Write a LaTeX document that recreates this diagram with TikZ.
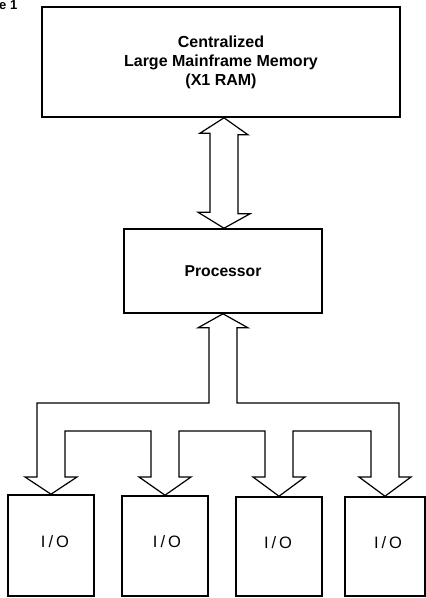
\documentclass[tikz,border=0pt]{standalone}
\usepackage{fontspec}
\setmainfont{Liberation Sans}
\usetikzlibrary{calc}
\begin{document}
\begin{tikzpicture}[x=1pt,y=-1pt,
  box/.style={draw, line width=1.6pt, inner sep=0pt},
  iobox/.style={box, minimum width=86pt},
  fat/.style={draw, line width=1.2pt, line join=miter},
  iotext/.style={font=\fontsize{16.5}{16.5}\selectfont, inner sep=0pt}]
\useasboundingbox (0,0) rectangle (426,598);
% caption fragment
\node[anchor=north west, inner sep=0pt, font=\bfseries\fontsize{13}{13}\selectfont] (fig) at (-1,0.5) {e 1};
% boxes
\node[box, minimum width=358pt, minimum height=110pt, align=center,
      font=\bfseries\fontsize{16}{19}\selectfont] (mem) at (221,62)
      {Centralized\\Large Mainframe Memory\\(X1 RAM)};
\node[box, minimum width=198pt, minimum height=84pt,
      font=\bfseries\fontsize{15.7}{18}\selectfont] (proc) at (223,271) {Processor};
\node[iobox, minimum height=101pt] (io1) at (51,545.5) {};
\node[iobox, minimum height=100pt] (io2) at (165,546) {};
\node[iobox, minimum height=99pt] (io3) at (279,546.5) {};
\node[box, minimum width=80pt, minimum height=99pt] (io4) at (385,546.5) {};
\node[iotext] (t1) at (55,542) {I\kern3pt/\kern3pt O};
\node[iotext] (t2) at (167,542) {I\kern3pt/\kern3pt O};
\node[iotext] (t3) at (278,543) {I\kern3pt/\kern3pt O};
\node[iotext] (t4) at (388,543) {I\kern3pt/\kern3pt O};
% helper coordinates
\coordinate (ax) at (224,0);
\coordinate (busout) at (0,403);
\coordinate (busin) at (0,431);
\coordinate (hb) at (0,477);
% double arrow memory <-> processor
\draw[fat] (ax |- mem.south) -- ++(24,17) -- ++(-10,0) -- ++(0,79) -- ++(12,0)
  -- (ax |- proc.north) -- ++(-26,-16) -- ++(12,0) -- ++(0,-79) -- ++(-10,0) -- cycle;
% distribution arrow processor -> I/O
\draw[fat] (proc.south) -- ++(25,14) -- ++(-11,0)
  -- ($(proc.south |- busout)+(14,0)$) -- ($(io4.north |- busout)+(14,0)$)
  -- ($(io4.north |- hb)+(14,0)$) -- ++(12,0) -- (io4.north)
  -- ($(io4.north |- hb)+(-26,0)$) -- ++(12,0)
  -- ($(io4.north |- busin)+(-14,0)$) -- ($(io3.north |- busin)+(14,0)$)
  -- ($(io3.north |- hb)+(14,0)$) -- ++(12,0) -- (io3.north)
  -- ($(io3.north |- hb)+(-26,0)$) -- ++(12,0)
  -- ($(io3.north |- busin)+(-14,0)$) -- ($(io2.north |- busin)+(14,0)$)
  -- ($(io2.north |- hb)+(14,0)$) -- ++(12,0) -- (io2.north)
  -- ($(io2.north |- hb)+(-26,0)$) -- ++(12,0)
  -- ($(io2.north |- busin)+(-14,0)$) -- ($(io1.north |- busin)+(14,0)$)
  -- ($(io1.north |- hb)+(14,0)$) -- ++(12,0) -- (io1.north)
  -- ($(io1.north |- hb)+(-26,0)$) -- ++(12,0)
  -- ($(io1.north |- busout)+(-14,0)$) -- ($(proc.south |- busout)+(-14,0)$)
  -- ($(proc.south)+(-14,14)$) -- ++(-11,0) -- cycle;
\end{tikzpicture}
\end{document}
